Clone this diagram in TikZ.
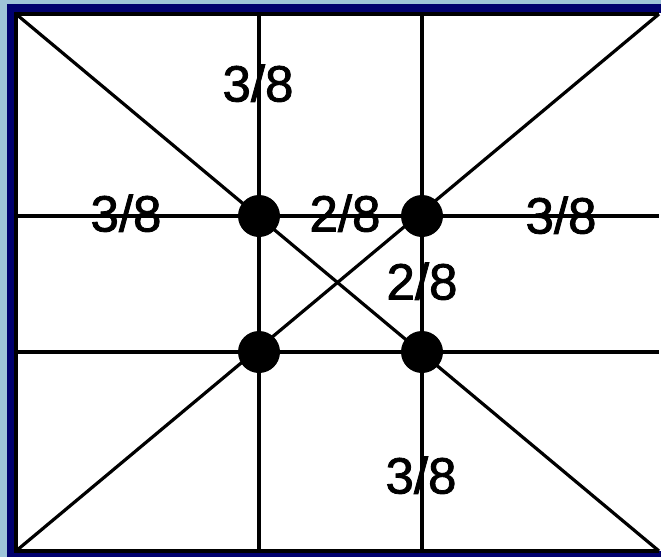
\documentclass[tikz,border=0pt]{standalone}
\usepackage{fontspec}
\setmainfont{Liberation Sans}
\newfontfamily\fracfont{Liberation Sans}[FakeBold=1.6]
\usetikzlibrary{calc}
\definecolor{skyback}{HTML}{9EC4D8}
\definecolor{navyframe}{HTML}{00006E}

\begin{document}
\begin{tikzpicture}[x=1pt, y=-1pt, line width=3.2pt,
  grid/.style={draw=black, line width=3.2pt},
  dot/.style={circle, fill=black, minimum size=42pt, inner sep=0pt},
  frac/.style={font=\fontsize{51}{51}\fracfont, inner sep=0pt, text depth=0pt}]
\useasboundingbox (0,0) rectangle (661,557);
%% background and frame
\fill[skyback] (0,0) rectangle (661,557);
\fill[navyframe] (7,4) rectangle (661,557);
\fill[white] (15,13) rectangle (661,551);
\coordinate (tl) at (16,14);
\coordinate (tr) at (659,14);
\coordinate (bl) at (16,551);
\coordinate (br) at (659,551);
\draw[grid] (tr) -- (tl) -- (bl) -- (br);
%% points of interest
\coordinate (p1) at (259,216);
\coordinate (p2) at (422,216);
\coordinate (p3) at (259,352);
\coordinate (p4) at (422,352);
%% grid lines
\draw[grid] (p1 |- tl) -- (p1 |- bl);
\draw[grid] (p2 |- tl) -- (p2 |- bl);
\draw[grid] (p1 -| tl) -- (p1 -| tr);
\draw[grid] (p3 -| tl) -- (p3 -| tr);
%% diagonals
\draw[grid] (tl) -- (br);
\draw[grid] (tr) -- (bl);
%% dots
\node[dot] (d1) at (p1) {};
\node[dot] (d2) at (p2) {};
\node[dot] (d3) at (p3) {};
\node[dot] (d4) at (p4) {};
%% labels
\node[frac] (ltop) at (258,83) {3/8};
\node[frac] (lleft) at (126,213) {3/8};
\node[frac] (lmid) at (345,213) {2/8};
\node[frac] (lright) at (561,215) {3/8};
\node[frac] (lcen) at (422,281) {2/8};
\node[frac] (lbot) at (421,475) {3/8};
\end{tikzpicture}
\end{document}
